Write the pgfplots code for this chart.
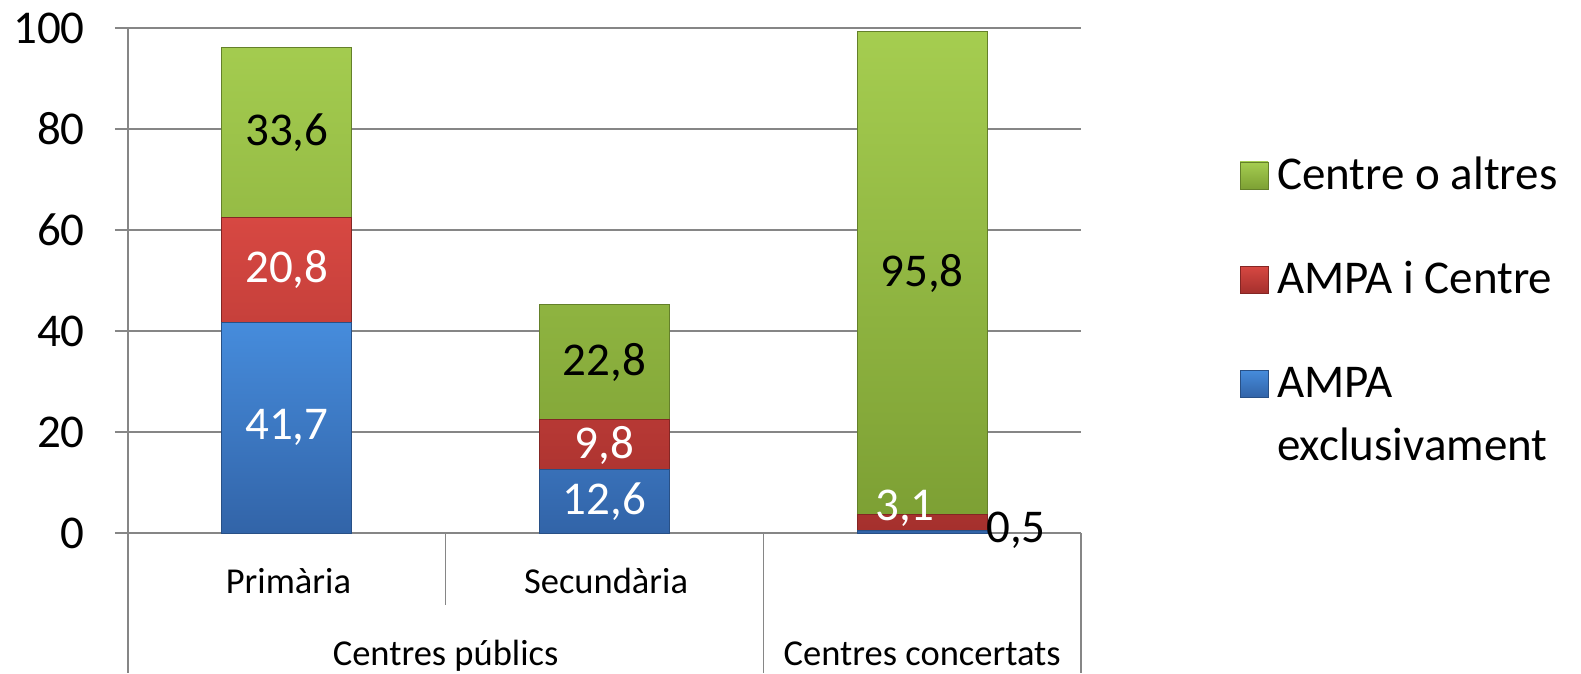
\documentclass[border=0pt]{standalone}
\usepackage{pgfplots}
\pgfplotsset{compat=1.18}
\usepackage{fontspec}
\setmainfont{Carlito}
\definecolor{gridgray}{RGB}{134,134,134}
\definecolor{gtop}{RGB}{165,205,80}
\definecolor{gbot}{RGB}{125,160,52}
\definecolor{rtop}{RGB}{215,72,66}
\definecolor{rbot}{RGB}{165,48,45}
\definecolor{btop}{RGB}{70,140,220}
\definecolor{bbot}{RGB}{50,100,168}
\newcommand{\bigfnt}{\fontsize{47pt}{56pt}\selectfont}
\newcommand{\catfnt}{\fontsize{36.5pt}{44pt}\selectfont}
\begin{document}
\begin{tikzpicture}
\path[use as bounding box] (-128pt,-140pt) rectangle (1453pt,533pt);
\begin{axis}[
  at={(0pt,0pt)}, anchor=south west,
  scale only axis, width=953pt, height=505pt,
  xmin=-0.5, xmax=2.5, ymin=0, ymax=100,
  axis x line*=bottom, axis y line*=left,
  xtick=\empty,
  ytick={0,20,40,60,80,100},
  ymajorgrids, grid style={gridgray, line width=1.6pt},
  axis line style={gridgray, line width=1.6pt},
  major tick style={gridgray, line width=1.6pt},
  tick align=outside, major tick length=13pt,
  /pgf/number format/assume math mode=true,
  yticklabel style={font=\bigfnt, inner sep=0pt, xshift=-30pt},
  ybar stacked, bar width=130pt,
  clip=false,
]
\addplot[draw=bbot!80!black, line width=0.8pt, top color=btop, bottom color=bbot] coordinates {(0,41.7) (1,12.6) (2,0.5)};
\addplot[draw=rbot!80!black, line width=0.8pt, top color=rtop, bottom color=rbot] coordinates {(0,20.8) (1,9.8) (2,3.1)};
\addplot[draw=gbot!80!black, line width=0.8pt, top color=gtop, bottom color=gbot] coordinates {(0,33.6) (1,22.8) (2,95.8)};
% label anchors
\coordinate (l1) at (axis cs:0,20.85);
\coordinate (l2) at (axis cs:0,52.1);
\coordinate (l3) at (axis cs:0,79.2);
\coordinate (l4) at (axis cs:1,6.3);
\coordinate (l5) at (axis cs:1,17.4);
\coordinate (l6) at (axis cs:1,33.8);
\coordinate (l7) at (axis cs:2,51.3);
\coordinate (l8) at (axis cs:1.946,4.95);
\coordinate (l9) at (axis cs:2.295,0.5);
% category axis
\draw[gridgray, line width=1.6pt] (axis cs:-0.5,0) -- ++(0pt,-140pt);
\draw[gridgray, line width=1.6pt] (axis cs:0.5,0) -- ++(0pt,-72pt);
\draw[gridgray, line width=1.6pt] (axis cs:1.5,0) -- ++(0pt,-140pt);
\draw[gridgray, line width=1.6pt] (axis cs:2.5,0) -- ++(0pt,-140pt);
\node[font=\catfnt, anchor=base] at ([yshift=-60pt]axis cs:0.005,0) {Primària};
\node[font=\catfnt, anchor=base] at ([yshift=-60pt]axis cs:1.005,0) {Secundària};
\node[font=\catfnt, anchor=base] at ([yshift=-132pt]axis cs:0.5,0) {Centres públics};
\node[font=\catfnt, anchor=base] at ([yshift=-132pt]axis cs:2,0) {Centres concertats};
\end{axis}
% data labels (drawn after the deferred stacked bars)
\node[font=\bigfnt, white] at (l1) {41,7};
\node[font=\bigfnt, white] at (l2) {20,8};
\node[font=\bigfnt, black] at (l3) {33,6};
\node[font=\bigfnt, white] at (l4) {12,6};
\node[font=\bigfnt, white] at (l5) {9,8};
\node[font=\bigfnt, black] at (l6) {22,8};
\node[font=\bigfnt, black] at (l7) {95,8};
\node[font=\bigfnt, white] at (l8) {3,1};
\node[font=\bigfnt, black] at (l9) {0,5};
% legend
\path[draw=gbot!80!black, line width=0.6pt, top color=gtop, bottom color=gbot] (1112pt,344pt) rectangle (1140pt,371pt);
\path[draw=rbot!80!black, line width=0.6pt, top color=rtop, bottom color=rbot] (1112pt,240pt) rectangle (1140pt,267pt);
\path[draw=bbot!80!black, line width=0.6pt, top color=btop, bottom color=bbot] (1112pt,136pt) rectangle (1140pt,163pt);
\node[font=\bigfnt, anchor=base west, inner sep=0pt] at (1149pt,344pt) {Centre o altres};
\node[font=\bigfnt, anchor=base west, inner sep=0pt] at (1149pt,240pt) {AMPA i Centre};
\node[font=\bigfnt, anchor=base west, inner sep=0pt] at (1149pt,136pt) {AMPA};
\node[font=\bigfnt, anchor=base west, inner sep=0pt] at (1149pt,73pt) {exclusivament};
\end{tikzpicture}
\end{document}
